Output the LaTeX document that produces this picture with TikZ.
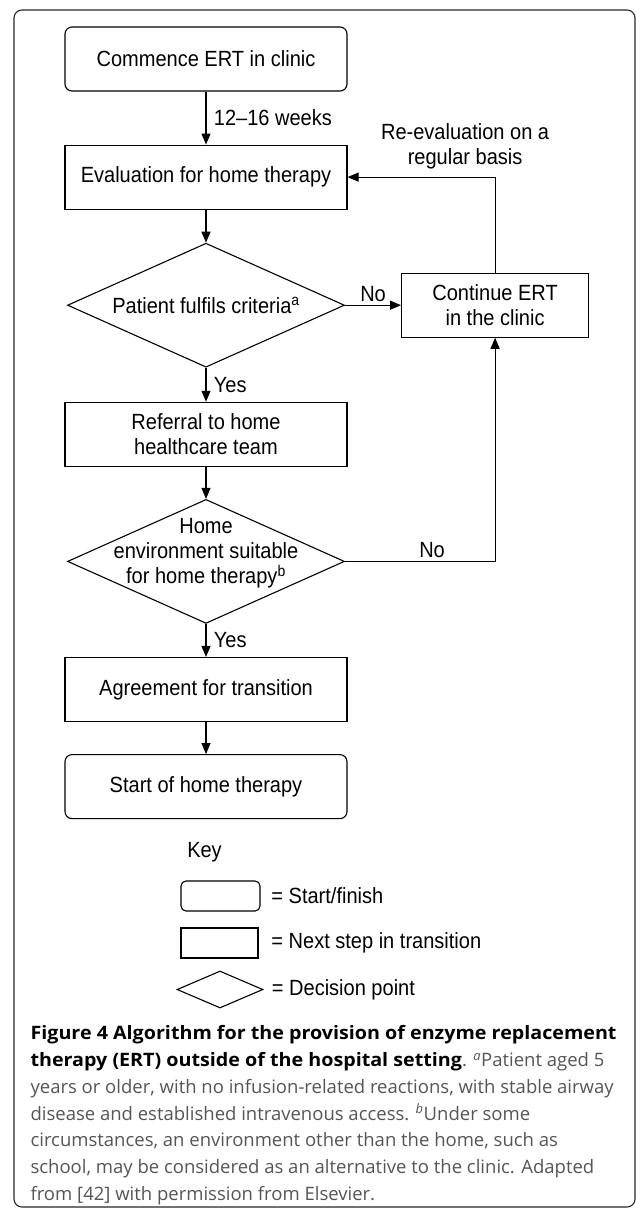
\documentclass[tikz,border=0pt]{standalone}
\usepackage{fontspec}
\setmainfont{Liberation Sans}[FakeStretch=0.91]
\newfontfamily\capfont{Open Sans}[BoldFeatures={FakeStretch=1.065}]
\usetikzlibrary{positioning, shapes.geometric, arrows.meta}
\definecolor{capgray}{HTML}{555555}

\begin{document}
\begin{tikzpicture}[x=1pt, y=-1pt,
		font=\fontsize{22}{25}\selectfont,
		line width=1.1pt,
		stepbox/.style={rectangle, draw, minimum width=282pt, minimum height=64pt, inner sep=0pt, align=center},
		endbox/.style={stepbox, rounded corners=7pt},
		decision/.style={diamond, draw, minimum width=277pt, minimum height=124pt, inner sep=0pt},
		arr/.style={-{Triangle[length=11pt, width=9pt]}}]
	\useasboundingbox (0,0) rectangle (636,1211);
	\draw[rounded corners=8pt, black!85] (14,10) rectangle (635,1207);

	% Colonna principale
	\node[endbox] (commence) at (206,59) {Commence ERT in clinic};
	\node[stepbox, below=53pt of commence] (eval) {Evaluation for home therapy};
	\node[decision, below=33pt of eval, label={center:Patient fulfils criteria\textsuperscript{a}}] (crit) {};
	\node[stepbox, below=34pt of crit] (referral) {Referral to home\\healthcare team};
	\node[decision, below=32pt of referral, label={[align=center, yshift=8pt]center:Home\\environment suitable\\for home therapy\textsuperscript{b}}] (suit) {};
	\node[stepbox, below=33pt of suit] (agree) {Agreement for transition};
	\node[endbox, below=32pt of agree] (start) {Start of home therapy};

	% Ramo laterale
	\node[stepbox, minimum width=187pt, right=56pt of crit] (cont) {Continue ERT\\in the clinic};

	% Connessioni
	\draw[arr] (commence) -- node[right=4pt] {12--16 weeks} (eval);
	\draw[arr] (eval) -- (crit);
	\draw[arr] (crit) -- node[above] {No} (cont);
	\draw[arr] (crit) -- node[right=4pt] {Yes} (referral);
	\draw[arr] (referral) -- (suit);
	\draw[arr] (suit) -- node[right=4pt] {Yes} (agree);
	\draw[arr] (agree) -- (start);
	\draw[arr] (suit.east) -| node[above, pos=0.29] {No} (cont.south);
	\draw[arr] (cont.north) |- node[pos=0.5, above, xshift=-30pt, yshift=4pt, align=center] {Re-evaluation on a\\regular basis} (eval.east);

	% Legenda
	\node (key) at (204.5,852) {Key};
	\node[endbox, minimum width=79pt, minimum height=30pt, rounded corners=5pt] (keystart) at (220.5,896) {};
	\node[right=7pt of keystart] (keystarttxt) {= Start/finish};
	\node[stepbox, minimum width=77pt, minimum height=30pt] (keystep) at (219.5,943) {};
	\node[right=9pt of keystep] (keysteptxt) {= Next step in transition};
	\node[decision, minimum width=86pt, minimum height=37pt] (keydec) at (220,989.5) {};
	\node[right=4.5pt of keydec] (keydectxt) {= Decision point};

	% Didascalia
	\node[anchor=north west, align=left, inner sep=0pt, text=capgray, font=\capfont\fontsize{18.5}{26.8}\selectfont] (caption) at (30,1025)
		{\textcolor{black}{\textbf{Figure 4 Algorithm for the provision of enzyme replacement}}\\
		\textcolor{black}{\textbf{therapy (ERT) outside of the hospital setting}}. \textsuperscript{\itshape a}Patient aged 5\\
		years or older, with no infusion-related reactions, with stable airway\\
		disease and established intravenous access. \textsuperscript{\itshape b}Under some\\
		circumstances, an environment other than the home, such as\\
		school, may be considered as an alternative to the clinic. Adapted\\
		from [42] with permission from Elsevier.};
\end{tikzpicture}
\end{document}
